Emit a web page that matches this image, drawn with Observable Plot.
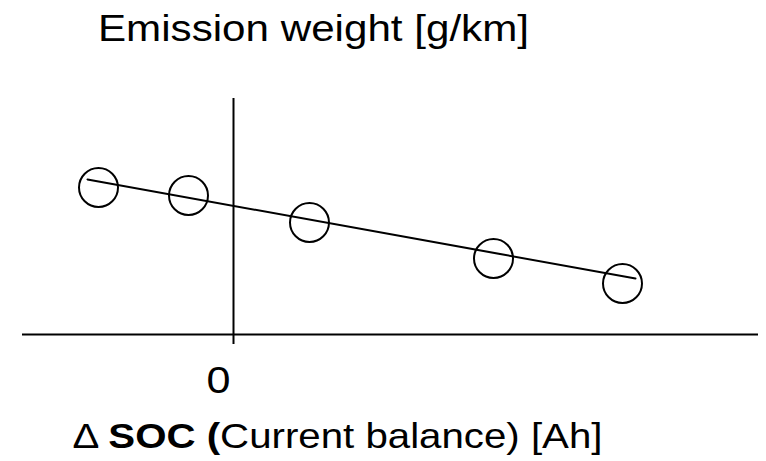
<!DOCTYPE html>
<html>
<head>
<meta charset="utf-8">
<script src="https://cdn.jsdelivr.net/npm/d3@7"></script>
<script src="https://cdn.jsdelivr.net/npm/@observablehq/plot@0.6"></script>
<style>
  html, body { margin: 0; padding: 0; background: #fff; }
  #chart svg { display: block; }
</style>
</head>
<body>
<div id="chart"></div>
<script>
// Schematic data
const socValues = [-1.35, -0.45, 0.76, 2.60, 3.89];
const emissionValues = [1.47, 1.39, 1.12, 0.76, 0.51];
const trendX = [-1.46, 4.02];
const trendY = [1.55, 0.56];
const xTicks = [0];
const yAxisExtent = [-0.10, 2.36];
const titleText = "Emission weight [g/km]";
const xLabelText = "ΔSOC (Current balance) [Ah]";

const points = socValues.map((x, i) => ({x, y: emissionValues[i]}));
const trend = trendX.map((x, i) => ({x, y: trendY[i]}));

const font = "'Liberation Sans', Arial, Helvetica, sans-serif";

const chart = Plot.plot({
  width: 766,
  height: 461,
  marginLeft: 22,
  marginRight: 8,
  marginTop: 98,
  marginBottom: 127,
  style: {fontFamily: font, color: "#000", background: "#fff"},
  x: {domain: [-2.11, 5.25], axis: null},
  y: {domain: [0, yAxisExtent[1]], axis: null},
  marks: [
    Plot.ruleY([0], {stroke: "#000", strokeWidth: 2}),
    Plot.ruleX(xTicks, {y1: yAxisExtent[0], y2: yAxisExtent[1], stroke: "#000", strokeWidth: 2}),
    Plot.line(trend, {x: "x", y: "y", stroke: "#000", strokeWidth: 2}),
    Plot.dot(points, {x: "x", y: "y", r: 19.5, stroke: "#000", strokeWidth: 2, fill: "none"}),
    Plot.axisX({ticks: xTicks, tickSize: 0, tickPadding: 33, dx: -15, fontSize: 36, label: null, className: "zero-tick"}),
    Plot.text([titleText], {text: d => d, frameAnchor: "top", dx: -77, dy: -58, lineAnchor: "bottom", fontSize: 36, fill: "#000", className: "title-text"}),
    Plot.text([xLabelText], {text: d => d, frameAnchor: "bottom-left", dx: 50, dy: 113, lineAnchor: "bottom", textAnchor: "start", fontSize: 35, fill: "#000", className: "xlabel-text"})
  ]
});

document.getElementById("chart").appendChild(chart);

// Horizontal stretch of the texts as in the reference
const svg = d3.select(chart);
svg.selectAll(".title-text text").attr("textLength", 431).attr("lengthAdjust", "spacingAndGlyphs");
svg.selectAll(".zero-tick text").attr("textLength", 24).attr("lengthAdjust", "spacingAndGlyphs");
svg.selectAll(".xlabel-text text").each(function() {
  const t = d3.select(this);
  t.text(null);
  t.append("tspan").text("Δ ");
  t.append("tspan").attr("font-weight", "bold").text("SOC (");
  t.append("tspan").text("Current balance) [Ah]");
  t.attr("textLength", 530).attr("lengthAdjust", "spacingAndGlyphs");
});
</script>
</body>
</html>
